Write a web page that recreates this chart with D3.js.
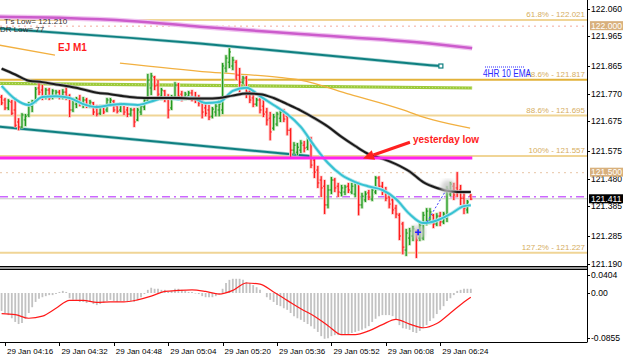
<!DOCTYPE html>
<html>
<head>
<meta charset="utf-8">
<script src="https://cdn.jsdelivr.net/npm/d3@7"></script>
<style>
  html, body { margin: 0; padding: 0; background: #fff; }
  svg { display: block; font-family: "Liberation Sans", Arial, sans-serif; }
</style>
</head>
<body>
<svg id="chart" width="625" height="358"></svg>
<script>
// ---- data (EURJPY M1, 29 Jan) ----
// one bar per minute, first bar is 04:15 (minutes counted from 04:00)
const firstBarMinute = 15;

const opens = [
  121.758, 121.748, 121.721, 121.741, 121.714, 121.673, 121.656, 121.680, 121.697, 121.727,
  121.744, 121.789, 121.782, 121.758, 121.782, 121.758, 121.761, 121.775, 121.758, 121.775,
  121.761, 121.714, 121.734, 121.751, 121.734, 121.748, 121.727, 121.738, 121.721, 121.703,
  121.724, 121.714, 121.734, 121.744, 121.727, 121.714, 121.731, 121.714, 121.700, 121.714,
  121.680, 121.707, 121.724, 121.748, 121.789, 121.826, 121.799, 121.761, 121.779, 121.758,
  121.721, 121.758, 121.799, 121.768, 121.751, 121.761, 121.772, 121.758, 121.751, 121.741,
  121.721, 121.714, 121.693, 121.707, 121.714, 121.714, 121.857, 121.877, 121.864, 121.877,
  121.833, 121.809, 121.823, 121.775, 121.755, 121.734, 121.748, 121.727, 121.707, 121.686,
  121.652, 121.666, 121.686, 121.707, 121.693, 121.645, 121.577, 121.570, 121.577, 121.594,
  121.587, 121.611, 121.543, 121.509, 121.475, 121.454, 121.390, 121.441, 121.475, 121.454,
  121.431, 121.434, 121.454, 121.434, 121.427, 121.461, 121.390, 121.407, 121.431, 121.410,
  121.434, 121.482, 121.454, 121.441, 121.417, 121.407, 121.379, 121.355, 121.325, 121.236,
  121.277, 121.284, 121.297, 121.277, 121.277, 121.332, 121.338, 121.355, 121.325, 121.352,
  121.332, 121.345, 121.427, 121.454, 121.448, 121.441, 121.413, 121.373, 121.420
];
const highs = [
  121.765, 121.755, 121.751, 121.748, 121.755, 121.686, 121.703, 121.700, 121.741, 121.748,
  121.792, 121.809, 121.799, 121.789, 121.789, 121.785, 121.782, 121.782, 121.785, 121.799,
  121.768, 121.755, 121.758, 121.765, 121.758, 121.755, 121.748, 121.741, 121.731, 121.731,
  121.731, 121.755, 121.755, 121.748, 121.734, 121.738, 121.734, 121.724, 121.721, 121.721,
  121.721, 121.734, 121.755, 121.837, 121.840, 121.830, 121.816, 121.789, 121.782, 121.768,
  121.765, 121.809, 121.806, 121.779, 121.775, 121.779, 121.782, 121.775, 121.765, 121.755,
  121.734, 121.731, 121.724, 121.734, 121.748, 121.874, 121.901, 121.925, 121.895, 121.884,
  121.857, 121.830, 121.830, 121.782, 121.765, 121.755, 121.755, 121.748, 121.721, 121.707,
  121.700, 121.707, 121.714, 121.717, 121.700, 121.652, 121.604, 121.601, 121.611, 121.608,
  121.625, 121.622, 121.553, 121.523, 121.488, 121.475, 121.458, 121.485, 121.482, 121.465,
  121.458, 121.458, 121.465, 121.465, 121.471, 121.468, 121.431, 121.437, 121.441, 121.448,
  121.488, 121.488, 121.468, 121.451, 121.424, 121.417, 121.390, 121.362, 121.332, 121.308,
  121.311, 121.318, 121.304, 121.332, 121.366, 121.379, 121.379, 121.359, 121.362, 121.366,
  121.366, 121.454, 121.468, 121.465, 121.502, 121.458, 121.434, 121.407, 121.427
];
const lows = [
  121.731, 121.714, 121.714, 121.697, 121.656, 121.645, 121.652, 121.659, 121.690, 121.707,
  121.738, 121.765, 121.748, 121.751, 121.748, 121.751, 121.755, 121.751, 121.751, 121.748,
  121.690, 121.707, 121.721, 121.727, 121.721, 121.721, 121.721, 121.697, 121.693, 121.697,
  121.700, 121.707, 121.727, 121.707, 121.703, 121.707, 121.697, 121.690, 121.693, 121.656,
  121.676, 121.697, 121.714, 121.741, 121.765, 121.782, 121.755, 121.748, 121.741, 121.686,
  121.714, 121.751, 121.748, 121.744, 121.748, 121.751, 121.744, 121.738, 121.727, 121.686,
  121.693, 121.680, 121.686, 121.693, 121.693, 121.700, 121.843, 121.857, 121.850, 121.816,
  121.775, 121.802, 121.755, 121.738, 121.724, 121.727, 121.703, 121.690, 121.662, 121.611,
  121.645, 121.659, 121.673, 121.673, 121.628, 121.553, 121.564, 121.560, 121.567, 121.570,
  121.577, 121.516, 121.482, 121.448, 121.417, 121.359, 121.379, 121.427, 121.434, 121.417,
  121.420, 121.424, 121.431, 121.427, 121.417, 121.355, 121.379, 121.400, 121.407, 121.403,
  121.427, 121.441, 121.424, 121.403, 121.379, 121.359, 121.345, 121.270, 121.222, 121.216,
  121.253, 121.267, 121.209, 121.267, 121.270, 121.321, 121.325, 121.311, 121.318, 121.318,
  121.325, 121.332, 121.420, 121.407, 121.417, 121.390, 121.359, 121.362, 121.407
];
const closes = [
  121.738, 121.721, 121.744, 121.703, 121.662, 121.656, 121.697, 121.693, 121.734, 121.744,
  121.785, 121.775, 121.758, 121.782, 121.755, 121.779, 121.775, 121.761, 121.775, 121.761,
  121.714, 121.748, 121.751, 121.734, 121.748, 121.727, 121.741, 121.707, 121.700, 121.724,
  121.707, 121.748, 121.748, 121.714, 121.710, 121.731, 121.707, 121.700, 121.714, 121.673,
  121.714, 121.727, 121.748, 121.816, 121.830, 121.796, 121.768, 121.782, 121.755, 121.714,
  121.758, 121.799, 121.761, 121.755, 121.768, 121.772, 121.755, 121.748, 121.738, 121.707,
  121.703, 121.690, 121.717, 121.727, 121.734, 121.864, 121.891, 121.912, 121.884, 121.833,
  121.809, 121.823, 121.775, 121.748, 121.734, 121.748, 121.714, 121.700, 121.680, 121.639,
  121.690, 121.700, 121.707, 121.683, 121.645, 121.577, 121.594, 121.587, 121.601, 121.584,
  121.618, 121.526, 121.502, 121.465, 121.448, 121.390, 121.441, 121.475, 121.448, 121.434,
  121.448, 121.451, 121.441, 121.454, 121.465, 121.390, 121.420, 121.427, 121.417, 121.441,
  121.482, 121.454, 121.434, 121.413, 121.393, 121.373, 121.359, 121.284, 121.246, 121.294,
  121.301, 121.308, 121.270, 121.321, 121.355, 121.369, 121.366, 121.325, 121.352, 121.332,
  121.359, 121.444, 121.461, 121.424, 121.434, 121.413, 121.379, 121.400, 121.410
];

// moving averages, read every 4 minutes
const maMinutes = [15, 19, 23, 27, 31, 35, 39, 43, 47, 51, 55, 59, 63, 67, 71, 75, 79, 83,
  87, 91, 95, 99, 103, 107, 111, 115, 119, 123, 127, 131, 135, 139, 143, 147, 151, 153];
const maFast = [121.796, 121.751, 121.731, 121.758, 121.761, 121.755, 121.734, 121.724, 121.731,
  121.734, 121.731, 121.743, 121.755, 121.751, 121.756, 121.738, 121.741, 121.779, 121.790,
  121.761, 121.731, 121.700, 121.656, 121.591, 121.533, 121.492, 121.468, 121.453, 121.441,
  121.410, 121.359, 121.328, 121.337, 121.359, 121.386, 121.389];
const maSlow = [121.855, 121.835, 121.814, 121.809, 121.801, 121.794, 121.784, 121.773, 121.768,
  121.761, 121.756, 121.755, 121.755, 121.755, 121.753, 121.753, 121.755, 121.763, 121.770,
  121.768, 121.755, 121.734, 121.712, 121.686, 121.657, 121.622, 121.591, 121.563, 121.548,
  121.529, 121.504, 121.468, 121.448, 121.437, 121.434, 121.434];

// MACD histogram (one per bar) and signal line (every 4 minutes)
const macdHist = [
  -0.034, -0.038, -0.042, -0.048, -0.055, -0.059, -0.057, -0.049, -0.038, -0.027,
  -0.017, -0.011, -0.008, -0.006, -0.004, -0.004, -0.002, 0.002, 0.004, 0.002,
  -0.010, -0.013, -0.013, -0.017, -0.017, -0.019, -0.017, -0.021, -0.023, -0.021,
  -0.019, -0.015, -0.013, -0.015, -0.017, -0.015, -0.015, -0.017, -0.015, -0.017,
  -0.013, -0.008, -0.002, 0.006, 0.010, 0.008, 0.008, 0.006, 0.006, 0.002,
  0.004, 0.008, 0.008, 0.006, 0.004, 0.002, 0.002, -0.001, -0.002, -0.006,
  -0.008, -0.008, -0.008, -0.006, -0.002, 0.008, 0.019, 0.025, 0.027, 0.027,
  0.027, 0.025, 0.021, 0.019, 0.015, 0.011, 0.006, 0.000, -0.008, -0.013,
  -0.017, -0.023, -0.025, -0.029, -0.032, -0.038, -0.044, -0.048, -0.051, -0.055,
  -0.059, -0.063, -0.068, -0.074, -0.082, -0.087, -0.086, -0.082, -0.080, -0.080,
  -0.080, -0.078, -0.078, -0.076, -0.074, -0.072, -0.070, -0.067, -0.063, -0.055,
  -0.049, -0.044, -0.042, -0.042, -0.042, -0.044, -0.051, -0.061, -0.067, -0.068,
  -0.070, -0.074, -0.076, -0.072, -0.067, -0.061, -0.053, -0.048, -0.040, -0.032,
  -0.025, -0.015, -0.010, -0.004, 0.004, 0.006, 0.008, 0.008, 0.008
];
const macdSignal = [-0.039, -0.041, -0.048, -0.044, -0.029, -0.014, -0.014, -0.018, -0.017,
  -0.017, -0.013, -0.006, 0.003, 0.005, 0.006, 0.003, -0.002, 0.005, 0.019, 0.017, 0.002,
  -0.014, -0.030, -0.044, -0.062, -0.079, -0.079, -0.072, -0.060, -0.050, -0.059, -0.066,
  -0.058, -0.038, -0.017, -0.008];

// drawn objects: [minute, price] points
const purpleLine = [[14.5, 122.032], [33.6, 122.028], [52.8, 122.018], [73.4, 121.998], [102.8, 121.973], [141, 121.941], [153.4, 121.925]];
const tealUpper = [[14.5, 121.992], [52.8, 121.960], [73.4, 121.941], [141, 121.867], [144.2, 121.864]];
const tealLower = [[14.5, 121.657], [106.3, 121.556]];
const greenLine = [[14.5, 121.805], [153.4, 121.789]];
const orangeA = [[14.5, 121.935], [30.7, 121.901]];
const orangeB = [[49.8, 121.874], [76.3, 121.843], [96, 121.826], [102.8, 121.816], [117.5, 121.767],
  [133.1, 121.714], [138.1, 121.693], [141.9, 121.680], [152.8, 121.652]];

const fibPcts = ['61.8%', '78.6%', '88.6%', '100%', '127.2%'];
const fibPrices = [122.021, 121.817, 121.695, 121.557, 121.227];
const roundLevels = [122.000, 121.500];
const yesterdayLow = 121.550;
const pivotLevel = 121.418;
const bidPrice = 121.411;

const priceTicks = [122.060, 121.965, 121.865, 121.770, 121.675, 121.575, 121.480, 121.385, 121.285, 121.190];
const macdTicks = [0.0404, 0.00, -0.0855];
const macdTickLabels = ['0.0404', '0.00', '-0.0855'];
const timeTickMinutes = [16, 32, 48, 64, 80, 96, 112, 128, 144];
const timeTickLabels = ['29 Jan 04:16', '29 Jan 04:32', '29 Jan 04:48', '29 Jan 05:04', '29 Jan 05:20',
  '29 Jan 05:36', '29 Jan 05:52', '29 Jan 06:08', '29 Jan 06:24'];

// ---- layout ----
const plotRight = 587;
const mainBottom = 266;
const subTop = 270, subBottom = 342;

const svg = d3.select('#chart');
svg.append('rect').attr('width', 625).attr('height', 358).attr('fill', '#fff');

const x = d3.scaleLinear().domain([16, 144]).range([5, 440.2]);
const y = d3.scaleLinear().domain([122.021, 121.227]).range([20, 252.7]);
const ys = d3.scaleLinear().domain([0, -0.0855]).range([293, 338]);

const defs = svg.append('defs');
defs.append('clipPath').attr('id', 'mainClip').append('rect')
  .attr('x', 0).attr('y', 0).attr('width', plotRight).attr('height', mainBottom);
defs.append('clipPath').attr('id', 'subClip').append('rect')
  .attr('x', 0).attr('y', subTop).attr('width', plotRight).attr('height', subBottom - subTop);
defs.append('filter').attr('id', 'blur').append('feGaussianBlur').attr('stdDeviation', 2);

const main = svg.append('g').attr('clip-path', 'url(#mainClip)');

// horizontal levels
const fibColor = '#f0d596';
main.selectAll('.fib').data(fibPrices).enter().append('line')
  .attr('x1', 0).attr('x2', plotRight)
  .attr('y1', d => y(d)).attr('y2', d => y(d))
  .attr('stroke', (d, i) => i === 1 ? '#e2b23a' : fibColor)
  .attr('stroke-width', 2);

main.selectAll('.round').data(roundLevels).enter().append('line')
  .attr('x1', 0).attr('x2', plotRight)
  .attr('y1', d => y(d)).attr('y2', d => y(d))
  .attr('stroke', (d, i) => i === 0 ? '#f4a89a' : '#e8c4a4')
  .attr('stroke-dasharray', '2,4').attr('stroke-width', 1);

main.append('line').attr('x1', 0).attr('x2', plotRight)
  .attr('y1', y(bidPrice)).attr('y2', y(bidPrice))
  .attr('stroke', '#c8c8c8').attr('stroke-width', 1);
main.append('line').attr('x1', 0).attr('x2', plotRight)
  .attr('y1', y(pivotLevel)).attr('y2', y(pivotLevel))
  .attr('stroke', '#cc66ff').attr('stroke-width', 1.5).attr('stroke-dasharray', '8,4,2,4');

const line = d3.line().x(d => x(d[0])).y(d => y(d[1]));
const smooth = d3.line().x(d => x(d[0])).y(d => y(d[1])).curve(d3.curveMonotoneX);

// trend lines / objects
main.append('path').attr('d', smooth(purpleLine)).attr('fill', 'none')
  .attr('stroke', '#f0c4f0').attr('stroke-width', 5);
main.append('path').attr('d', smooth(purpleLine)).attr('fill', 'none')
  .attr('stroke', '#cc5ccc').attr('stroke-width', 2.5);
[tealUpper, tealLower].forEach(pts => {
  main.append('path').attr('d', line(pts)).attr('fill', 'none')
    .attr('stroke', '#a8d4d4').attr('stroke-width', 3.5);
  main.append('path').attr('d', line(pts)).attr('fill', 'none')
    .attr('stroke', '#0e7f80').attr('stroke-width', 2);
});
const tealEnd = tealUpper[tealUpper.length - 1];
main.append('rect').attr('x', x(tealEnd[0]) - 2).attr('y', y(tealEnd[1]) - 2)
  .attr('width', 4).attr('height', 4).attr('fill', '#fff')
  .attr('stroke', '#0e7f80').attr('stroke-width', 1.2);
main.append('path').attr('d', line(greenLine)).attr('fill', 'none')
  .attr('stroke', '#9cca3a').attr('stroke-width', 3.2);
main.append('path').attr('d', line(greenLine)).attr('fill', 'none')
  .attr('stroke', '#c8e48c').attr('stroke-width', 1).attr('stroke-dasharray', '1,2');
[orangeA, orangeB].forEach(pts => {
  main.append('path').attr('d', smooth(pts)).attr('fill', 'none')
    .attr('stroke', '#f2b040').attr('stroke-width', 1.3);
});

// bars
const bars = opens.map((o, i) => ({ m: firstBarMinute + i, o: o, h: highs[i], l: lows[i], c: closes[i] }));
const barG = main.append('g');
const halo = d => d.c >= d.o ? '#b4dca8' : '#ffb8b8';
const core = d => d.c >= d.o ? '#1f9a1f' : '#ff1c1c';
barG.selectAll('.halo').data(bars).enter().append('line')
  .attr('x1', d => x(d.m)).attr('x2', d => x(d.m))
  .attr('y1', d => y(d.h) - 0.5).attr('y2', d => y(d.l) + 0.5)
  .attr('stroke', halo).attr('stroke-width', 3);
const bg = barG.selectAll('.bar').data(bars).enter().append('g');
bg.append('line')
  .attr('x1', d => x(d.m)).attr('x2', d => x(d.m))
  .attr('y1', d => y(d.h)).attr('y2', d => y(d.l))
  .attr('stroke', core).attr('stroke-width', 1.2);
bg.append('line')
  .attr('x1', d => x(d.m) - 1.6).attr('x2', d => x(d.m))
  .attr('y1', d => y(d.o)).attr('y2', d => y(d.o))
  .attr('stroke', core).attr('stroke-width', 1);
bg.append('line')
  .attr('x1', d => x(d.m)).attr('x2', d => x(d.m) + 1.6)
  .attr('y1', d => y(d.c)).attr('y2', d => y(d.c))
  .attr('stroke', core).attr('stroke-width', 1);

// moving averages
const fastPts = maMinutes.map((m, i) => [m, maFast[i]]);
const slowPts = maMinutes.map((m, i) => [m, maSlow[i]]);
main.append('path').attr('d', smooth(fastPts)).attr('fill', 'none')
  .attr('stroke', '#b6e8ee').attr('stroke-width', 3.6);
main.append('path').attr('d', smooth(fastPts)).attr('fill', 'none')
  .attr('stroke', '#36c2d2').attr('stroke-width', 2);
main.append('path').attr('d', smooth(slowPts)).attr('fill', 'none')
  .attr('stroke', '#b0b0b0').attr('stroke-width', 3.4);
main.append('path').attr('d', smooth(slowPts)).attr('fill', 'none')
  .attr('stroke', '#1a1a1a').attr('stroke-width', 2);

// yesterday low
const lastMinute = firstBarMinute + opens.length - 1;
main.append('line').attr('x1', 0).attr('x2', x(lastMinute) + 1.5)
  .attr('y1', y(yesterdayLow)).attr('y2', y(yesterdayLow))
  .attr('stroke', '#ff22ee').attr('stroke-width', 3);

// hand-drawn marks near the end
const circleA = [137.5, 121.297], circleB = [146.3, 121.451];
[circleA, circleB].forEach(p => {
  main.append('circle').attr('cx', x(p[0])).attr('cy', y(p[1])).attr('r', 7)
    .attr('fill', '#c8c8c8').attr('opacity', 0.8).attr('filter', 'url(#blur)');
});
main.append('path').attr('d', line([[140.1, 121.332], [145.4, 121.434]]))
  .attr('stroke', '#3a3aff').attr('stroke-width', 1).attr('stroke-dasharray', '2,2');
main.append('path')
  .attr('d', `M${x(circleA[0]) - 3},${y(circleA[1])}h6M${x(circleA[0])},${y(circleA[1]) - 3}v6`)
  .attr('stroke', '#2020ff').attr('stroke-width', 1.6);

// arrow "yesterday low"
const arrowFrom = [135.1, 121.604], arrowTo = [121.3, 121.548];
const ax0 = x(arrowFrom[0]), ay0 = y(arrowFrom[1]), ax1 = x(arrowTo[0]), ay1 = y(arrowTo[1]);
const ang = Math.atan2(ay1 - ay0, ax1 - ax0);
const headLen = 11, headW = 5;
const bx = ax1 - headLen * Math.cos(ang), by = ay1 - headLen * Math.sin(ang);
main.append('line').attr('x1', ax0).attr('y1', ay0).attr('x2', bx).attr('y2', by)
  .attr('stroke', '#ff2020').attr('stroke-width', 3);
main.append('path')
  .attr('d', `M${ax1},${ay1}L${bx - headW * Math.sin(ang)},${by + headW * Math.cos(ang)}L${bx + headW * Math.sin(ang)},${by - headW * Math.cos(ang)}Z`)
  .attr('fill', '#ff2020');

// texts in main window
const txt = main.append('g');
fibPrices.forEach((p, i) => {
  txt.append('text').attr('x', 585).attr('y', y(p) - 3)
    .attr('text-anchor', 'end').attr('font-size', 8).attr('fill', '#d6ae5e')
    .text(fibPcts[i] + ' - ' + p.toFixed(3));
});
txt.append('text').attr('x', 4).attr('y', 24).attr('font-size', 8).attr('fill', '#333')
  .text("T's Low= 121.210");
txt.append('text').attr('x', 0).attr('y', 32).attr('font-size', 8).attr('fill', '#333')
  .text('DR Low= 77');
txt.append('text').attr('x', 58).attr('y', 51).attr('font-size', 10).attr('font-weight', 'bold')
  .attr('fill', '#ff1c1c').text('EJ M1');
txt.append('text').attr('x', 413).attr('y', 143).attr('font-size', 10).attr('font-weight', 'bold')
  .attr('fill', '#ff1c1c').text('yesterday low');
txt.append('line').attr('x1', 485).attr('x2', 525).attr('y1', 67).attr('y2', 67)
  .attr('stroke', '#2a2aff').attr('stroke-dasharray', '1,1');
txt.append('text').attr('x', 483).attr('y', 77).attr('font-size', 10.5).attr('fill', '#2a2aff')
  .attr('textLength', 48).attr('lengthAdjust', 'spacingAndGlyphs').text('4HR 10 EMA');

// ---- MACD window ----
const sub = svg.append('g').attr('clip-path', 'url(#subClip)');
sub.selectAll('.hist').data(macdHist).enter().append('line')
  .attr('x1', (d, i) => x(firstBarMinute + i)).attr('x2', (d, i) => x(firstBarMinute + i))
  .attr('y1', ys(0)).attr('y2', d => ys(d))
  .attr('stroke', '#c2c2c2').attr('stroke-width', 1.8);
const sigLine = d3.line().x(d => x(d[0])).y(d => ys(d[1])).curve(d3.curveMonotoneX);
sub.append('path').attr('d', sigLine(maMinutes.map((m, i) => [m, macdSignal[i]])))
  .attr('fill', 'none').attr('stroke', '#ff1a1a').attr('stroke-width', 1.2);

// ---- frames ----
svg.append('rect').attr('x', 0).attr('y', 266.5).attr('width', plotRight).attr('height', 3)
  .attr('fill', '#9a9a9a');
svg.append('line').attr('x1', 0).attr('x2', plotRight).attr('y1', 266.5).attr('y2', 266.5)
  .attr('stroke', '#000');
svg.append('line').attr('x1', 0).attr('x2', plotRight).attr('y1', 269.5).attr('y2', 269.5)
  .attr('stroke', '#000');
svg.append('line').attr('x1', 0).attr('x2', plotRight).attr('y1', subBottom + 0.5).attr('y2', subBottom + 0.5)
  .attr('stroke', '#000');
svg.append('line').attr('x1', plotRight + 0.5).attr('x2', plotRight + 0.5).attr('y1', 0).attr('y2', subBottom + 0.5)
  .attr('stroke', '#000');

// ---- right price axis ----
const axis = svg.append('g').attr('font-size', 8.6).attr('fill', '#000');
priceTicks.forEach(p => {
  axis.append('line').attr('x1', plotRight).attr('x2', plotRight + 3)
    .attr('y1', Math.round(y(p)) + 0.5).attr('y2', Math.round(y(p)) + 0.5).attr('stroke', '#000');
  axis.append('text').attr('x', 591).attr('y', y(p)).attr('dy', '0.35em').text(p.toFixed(3));
});
roundLevels.forEach(p => {
  axis.append('rect').attr('x', 590).attr('y', y(p) - 5).attr('width', 33).attr('height', 9)
    .attr('fill', '#d8b07c');
  axis.append('text').attr('x', 591).attr('y', y(p) - 0.5).attr('dy', '0.35em').attr('fill', '#fff')
    .text(p.toFixed(3));
});
axis.append('rect').attr('x', 589).attr('y', y(bidPrice) - 4.5).attr('width', 34).attr('height', 9)
  .attr('fill', '#000');
axis.append('text').attr('x', 591).attr('y', y(bidPrice)).attr('dy', '0.35em').attr('fill', '#fff')
  .text(bidPrice.toFixed(3));

macdTicks.forEach((v, i) => {
  const yy = Math.max(ys(v), 275);
  axis.append('line').attr('x1', plotRight).attr('x2', plotRight + 3)
    .attr('y1', Math.round(yy) + 0.5).attr('y2', Math.round(yy) + 0.5).attr('stroke', '#000');
  axis.append('text').attr('x', 591).attr('y', yy).attr('dy', '0.35em').text(macdTickLabels[i]);
});

// ---- time axis ----
const tAxis = svg.append('g').attr('font-size', 8).attr('fill', '#000');
timeTickMinutes.forEach((m, i) => {
  tAxis.append('line').attr('x1', Math.round(x(m)) + 0.5).attr('x2', Math.round(x(m)) + 0.5)
    .attr('y1', subBottom).attr('y2', subBottom + 4).attr('stroke', '#000');
  tAxis.append('text').attr('x', x(m) + 2).attr('y', 351).attr('dy', '0.35em').text(timeTickLabels[i]);
});
</script>
</body>
</html>
